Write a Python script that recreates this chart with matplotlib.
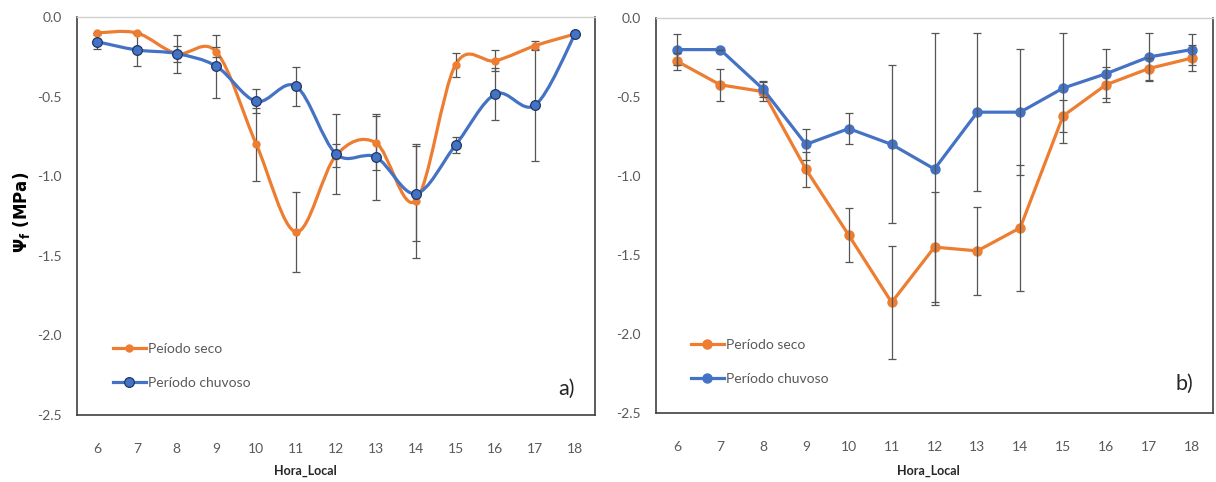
import matplotlib
matplotlib.use("Agg")
import matplotlib.pyplot as plt
from matplotlib.path import Path
from matplotlib.patches import PathPatch
from matplotlib.lines import Line2D
import numpy as np

plt.rcParams['font.family'] = ['Lato', 'DejaVu Sans']

hours = [6, 7, 8, 9, 10, 11, 12, 13, 14, 15, 16, 17, 18]

# painel a)
seco_a = [-0.10, -0.10, -0.23, -0.22, -0.80, -1.35, -0.87, -0.79, -1.155, -0.30, -0.275, -0.18, -0.107]
seco_a_err = [0.0, 0.0, 0.05, 0.03, 0.23, 0.25, 0.07, 0.17, 0.36, 0.075, 0.065, 0.03, 0.0]
chuv_a = [-0.155, -0.207, -0.23, -0.31, -0.53, -0.436, -0.86, -0.88, -1.11, -0.805, -0.484, -0.553, -0.107]
chuv_a_err = [0.045, 0.10, 0.12, 0.20, 0.075, 0.12, 0.25, 0.27, 0.30, 0.05, 0.165, 0.35, 0.0]

# painel b)
seco_b = [-0.275, -0.423, -0.466, -0.958, -1.375, -1.80, -1.45, -1.474, -1.328, -0.62, -0.423, -0.32, -0.254]
seco_b_err = [0.055, 0.10, 0.06, 0.11, 0.17, 0.36, 0.35, 0.28, 0.40, 0.10, 0.11, 0.07, 0.08]
chuv_b = [-0.20, -0.20, -0.45, -0.80, -0.70, -0.80, -0.956, -0.596, -0.596, -0.444, -0.353, -0.247, -0.20]
chuv_b_err = [0.10, 0.0, 0.05, 0.10, 0.10, 0.50, 0.86, 0.50, 0.40, 0.35, 0.155, 0.15, 0.10]

orange = '#ED7D31'
blue = '#4472C4'
grey_txt = '#595959'
err_col = '#555555'


def smooth_path(x, y):
    # bezier tipo excel (catmull-rom)
    p = np.column_stack([x, y]).astype(float)
    n = len(p)
    verts = [p[0]]
    codes = [Path.MOVETO]
    for i in range(n - 1):
        p0 = p[i - 1] if i > 0 else p[i]
        p1 = p[i]
        p2 = p[i + 1]
        p3 = p[i + 2] if i + 2 < n else p[i + 1]
        c1 = p1 + (p2 - p0) / 6.0
        c2 = p2 - (p3 - p1) / 6.0
        verts += [c1, c2, p2]
        codes += [Path.CURVE4] * 3
    return Path(verts, codes)


def style_axes(ax):
    ax.set_xlim(5.5, 18.5)
    ax.set_ylim(-2.5, 0.0)
    ax.set_xticks(hours)
    ax.set_yticks([0.0, -0.5, -1.0, -1.5, -2.0, -2.5])
    ax.set_yticklabels(['0.0', '-0.5', '-1.0', '-1.5', '-2.0', '-2.5'])
    ax.tick_params(axis='x', length=0, pad=20, labelsize=10, labelcolor=grey_txt)
    ax.tick_params(axis='y', length=0, pad=11, labelsize=10, labelcolor=grey_txt)
    for s in ['left', 'bottom', 'right']:
        ax.spines[s].set_color('#404040')
        ax.spines[s].set_linewidth(1.2)
    ax.spines['top'].set_color('#d0d0d0')
    ax.spines['top'].set_linewidth(1.0)


fig = plt.figure(figsize=(12.16, 4.82), dpi=100)
W, H = 1216, 482
ax1 = fig.add_axes([77 / W, 1 - 415 / H, (595 - 77) / W, (415 - 17) / H])
ax2 = fig.add_axes([656 / W, 1 - 413 / H, (1213 - 656) / W, (413 - 18) / H])

# a) linhas suavizadas
ax1.add_patch(PathPatch(smooth_path(hours, seco_a), facecolor='none', edgecolor=orange, lw=2.3, zorder=2))
ax1.add_patch(PathPatch(smooth_path(hours, chuv_a), facecolor='none', edgecolor=blue, lw=2.3, zorder=2))
ax1.errorbar(hours, seco_a, yerr=seco_a_err, fmt='none', ecolor=err_col, elinewidth=0.9, capsize=3, capthick=0.9, zorder=3)
ax1.errorbar(hours, chuv_a, yerr=chuv_a_err, fmt='none', ecolor=err_col, elinewidth=0.9, capsize=3, capthick=0.9, zorder=3)
ax1.plot(hours, seco_a, 'o', color=orange, ms=5, zorder=4)
ax1.plot(hours, chuv_a, 'o', color=blue, mec='#1f3864', mew=0.9, ms=7, zorder=5)
style_axes(ax1)
h1 = [Line2D([], [], color=orange, lw=2.3, marker='o', ms=5),
      Line2D([], [], color=blue, lw=2.3, marker='o', ms=7, mec='#1f3864', mew=0.9)]
ax1.legend(h1, ['Peíodo seco', 'Período chuvoso'], loc='lower left', bbox_to_anchor=(0.045, 0.035),
           frameon=False, fontsize=10, labelcolor=grey_txt, handlelength=2.4, handletextpad=0.1,
           labelspacing=1.55)
ax1.text(0.96, 0.065, 'a)', transform=ax1.transAxes, fontsize=15.5, ha='right', va='center', color='#262626')

# b)
ax2.plot(hours, seco_b, '-o', color=orange, lw=2.3, ms=6.5, zorder=2, label='Período seco')
ax2.plot(hours, chuv_b, '-o', color=blue, lw=2.3, ms=6.5, zorder=2, label='Período chuvoso')
ax2.errorbar(hours, seco_b, yerr=seco_b_err, fmt='none', ecolor=err_col, elinewidth=0.9, capsize=3, capthick=0.9, zorder=3)
ax2.errorbar(hours, chuv_b, yerr=chuv_b_err, fmt='none', ecolor=err_col, elinewidth=0.9, capsize=3, capthick=0.9, zorder=3)
style_axes(ax2)
ax2.legend(loc='lower left', bbox_to_anchor=(0.04, 0.04), frameon=False, fontsize=10, labelcolor=grey_txt,
           handlelength=2.4, handletextpad=0.1, labelspacing=1.55)
ax2.text(0.965, 0.075, 'b)', transform=ax2.transAxes, fontsize=15.5, ha='right', va='center', color='#262626')

fig.text(21 / W, 1 - 212 / H, r'$\mathbf{\Psi_f}$ (MPa)', rotation=90, ha='center', va='center',
         fontsize=12, fontweight='bold', family='DejaVu Sans', color='#000000')
fig.text(305 / W, 1 - 471 / H, 'Hora_Local', ha='center', va='center', fontsize=9, fontweight='bold', color='#262626')
fig.text(928 / W, 1 - 471 / H, 'Hora_Local', ha='center', va='center', fontsize=9, fontweight='bold', color='#262626')

fig.savefig('out.png', dpi=100)
